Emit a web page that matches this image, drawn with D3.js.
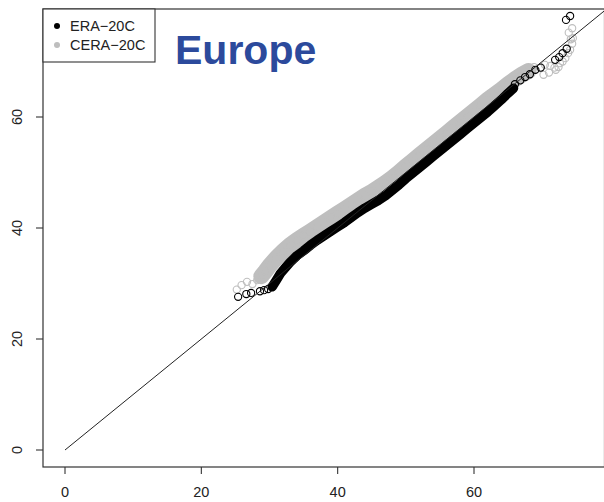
<!DOCTYPE html>
<html>
<head>
<meta charset="utf-8">
<script src="https://cdn.jsdelivr.net/npm/d3@7"></script>
<style>
  html, body { margin: 0; padding: 0; background: #fff; }
  svg { display: block; }
  text { font-family: "Liberation Sans", Arial, Helvetica, sans-serif; }
</style>
</head>
<body>
<svg id="chart" width="604" height="502"></svg>
<script>
// Quantile pairs (reference quantile on x, reanalysis quantile on y)
const eraX = [25.4, 26.6, 27.3, 28.6, 29.2, 29.8, 30.4, 31.0, 31.6, 32.3, 33.0, 34, 35, 36, 37, 38, 39, 40, 41, 42, 43, 44, 45, 46, 47, 48, 49, 50, 51, 52, 53, 54, 55, 56, 57, 58, 59, 60, 61, 62, 63, 64, 65, 65.8, 66.0, 66.8, 67.5, 68.2, 69.0, 69.8, 71.9, 72.5, 73.0, 73.6, 73.5, 74.1];
const eraY = [27.6, 28.1, 28.3, 28.6, 28.8, 29.0, 29.4, 30.6, 31.8, 32.8, 33.8, 35.0, 35.9, 36.9, 37.8, 38.6, 39.4, 40.2, 41.0, 41.9, 42.8, 43.6, 44.3, 45.0, 45.8, 46.8, 47.8, 48.9, 49.9, 50.9, 51.9, 52.9, 53.9, 54.9, 55.9, 56.9, 57.9, 58.9, 59.9, 60.9, 62.0, 63.1, 64.3, 65.2, 65.9, 66.6, 67.2, 67.7, 68.5, 68.9, 70.3, 70.8, 71.5, 72.3, 77.5, 78.2];

const ceraX = [25.2, 25.9, 26.7, 27.5, 28.2, 28.8, 29.4, 30, 31, 32, 33, 34, 35, 36, 37, 38, 39, 40, 41, 42, 43, 44, 45, 46, 47, 48, 49, 50, 51, 52, 53, 54, 55, 56, 57, 58, 59, 60, 61, 62, 63, 64, 65, 66, 67, 68, 68.8, 69.7, 70.2, 70.4, 71.0, 71.2, 71.8, 72.0, 72.4, 72.6, 73.0, 73.4, 73.8, 74.1, 74.2, 73.9, 74.4, 74.4, 74.5];
const ceraY = [28.9, 29.7, 30.3, 29.9, 30.6, 31.3, 32.2, 33.2, 34.6, 35.8, 36.9, 37.8, 38.6, 39.4, 40.2, 41.0, 41.8, 42.6, 43.4, 44.2, 45.0, 45.8, 46.5, 47.3, 48.1, 49.0, 50.0, 51.1, 52.1, 53.1, 54.1, 55.1, 56.1, 57.1, 58.1, 59.1, 60.1, 61.1, 62.1, 63.1, 64.0, 64.9, 65.9, 66.8, 67.6, 68.3, 69.0, 68.8, 67.6, 69.4, 68.0, 69.2, 68.9, 68.5, 69.0, 69.7, 70.0, 70.6, 71.5, 72.1, 74.0, 75.2, 73.2, 76.0, 74.2];

const xTicks = [0, 20, 40, 60];
const yTicks = [0, 20, 40, 60];
const seriesNames = ["ERA\u221220C", "CERA\u221220C"];
const seriesColors = ["#000000", "#bebebe"];
const titleText = "Europe";

const svg = d3.select("#chart");

const x = d3.scaleLinear().domain([0, 60]).range([65, 474]);
const y = d3.scaleLinear().domain([0, 60]).range([450, 117]);

// plot region (R-style box, 4% padding around data range)
const box = { left: 43, right: 604.5, top: 9, bottom: 467 };

svg.append("defs").append("clipPath").attr("id", "plotclip")
  .append("rect")
  .attr("x", box.left).attr("y", box.top)
  .attr("width", box.right - box.left).attr("height", box.bottom - box.top);

const plot = svg.append("g").attr("clip-path", "url(#plotclip)");

function drawSeries(xs, ys, color, bandWidth, bodyRange) {
  const pts = xs.map((v, i) => [v, ys[i]]);
  const body = pts.filter(p => p[0] >= bodyRange[0] && p[0] <= bodyRange[1]);
  const line = d3.line().x(p => x(p[0])).y(p => y(p[1]));
  // dense middle of the distribution: overlapping symbols form a solid band
  plot.append("path")
    .attr("d", line(body))
    .attr("fill", "none")
    .attr("stroke", color)
    .attr("stroke-width", bandWidth)
    .attr("stroke-linecap", "round")
    .attr("stroke-linejoin", "round");
  plot.append("g").selectAll("circle")
    .data(pts)
    .join("circle")
    .attr("cx", p => x(p[0]))
    .attr("cy", p => y(p[1]))
    .attr("r", 3.6)
    .attr("fill", "none")
    .attr("stroke", color)
    .attr("stroke-width", 1.1);
}

drawSeries(ceraX, ceraY, seriesColors[1], 16, [28.8, 68]);
drawSeries(eraX, eraY, seriesColors[0], 9.5, [30.4, 65.8]);

// 1:1 reference line
plot.append("line")
  .attr("x1", x(0)).attr("y1", y(0))
  .attr("x2", x(100)).attr("y2", y(100))
  .attr("stroke", "#222").attr("stroke-width", 1);

// frame
svg.append("rect")
  .attr("x", box.left).attr("y", box.top)
  .attr("width", box.right - box.left).attr("height", box.bottom - box.top)
  .attr("fill", "none").attr("stroke", "#333").attr("stroke-width", 1.2);

// x axis
const xAxis = svg.append("g");
xAxis.selectAll("line").data(xTicks).join("line")
  .attr("x1", d => x(d)).attr("x2", d => x(d))
  .attr("y1", box.bottom).attr("y2", box.bottom + 7)
  .attr("stroke", "#333").attr("stroke-width", 1.1);
xAxis.selectAll("text").data(xTicks).join("text")
  .attr("x", d => x(d)).attr("y", 497)
  .attr("text-anchor", "middle")
  .attr("font-size", 14.5).attr("fill", "#222")
  .text(d => d);

// y axis
const yAxis = svg.append("g");
yAxis.selectAll("line").data(yTicks).join("line")
  .attr("x1", box.left).attr("x2", box.left - 7)
  .attr("y1", d => y(d)).attr("y2", d => y(d))
  .attr("stroke", "#333").attr("stroke-width", 1.1);
yAxis.selectAll("text").data(yTicks).join("text")
  .attr("transform", d => `translate(22,${y(d)}) rotate(-90)`)
  .attr("text-anchor", "middle")
  .attr("font-size", 14.5).attr("fill", "#222")
  .text(d => d);

// legend
const lg = svg.append("g");
lg.append("rect")
  .attr("x", box.left).attr("y", box.top)
  .attr("width", 112).attr("height", 53)
  .attr("fill", "#fff").attr("stroke", "#333").attr("stroke-width", 1.1);
seriesNames.forEach((name, i) => {
  lg.append("circle")
    .attr("cx", 57).attr("cy", 26 + i * 19).attr("r", 3)
    .attr("fill", seriesColors[i]);
  lg.append("text")
    .attr("x", 70).attr("y", 31 + i * 19)
    .attr("font-size", 14.5).attr("fill", "#222")
    .text(name);
});

// title
svg.append("text")
  .attr("x", 175).attr("y", 63.5)
  .attr("font-size", 41).attr("font-weight", "bold")
  .attr("fill", "#2c4a9c")
  .text(titleText);
</script>
</body>
</html>
